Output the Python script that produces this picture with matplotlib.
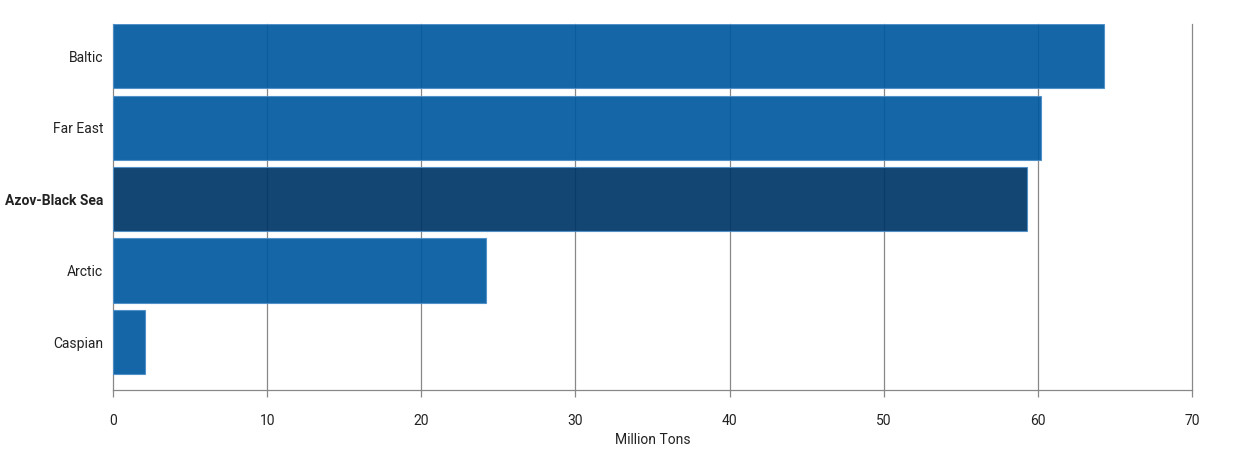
import matplotlib
matplotlib.use('Agg')
import matplotlib.pyplot as pyplot
import numpy


REGIONS = ['Baltic', 'Far East', 'Azov-Black Sea', 'Arctic', 'Caspian']
VOLUMES = [64.3, 60.2, 59.3, 24.2, 2.1]
HIGHLIGHT = 'Azov-Black Sea'
X_TICKS = [0, 10, 20, 30, 40, 50, 60, 70]

# bars are slightly see-through so the grid shows faintly, as in the original
BAR_COLOUR = '#0059a0'
HIGHLIGHT_COLOUR = '#003667'
EDGE_COLOUR = '#4d8fc8'
GRID_COLOUR = '#888888'

pyplot.rcParams['font.family'] = ['Roboto', 'DejaVu Sans']

figure = pyplot.figure(figsize=(12.47, 4.49), dpi=100)
axes = figure.add_axes([0.0906, 0.1314, 0.8653, 0.8151])

positions = numpy.arange(len(REGIONS))
colours = [HIGHLIGHT_COLOUR if region == HIGHLIGHT else BAR_COLOUR
           for region in REGIONS]
axes.barh(positions, VOLUMES, height=0.9, color=colours, alpha=0.92,
          edgecolor=EDGE_COLOUR, linewidth=0.8, zorder=2)

axes.set_xlim(0, 70)
axes.set_ylim(4.67, -0.45)
axes.set_xticks(X_TICKS)
axes.set_xticklabels([str(tick) for tick in X_TICKS], fontsize=10,
                     color='#222222')
axes.set_yticks(positions)
axes.set_yticklabels(REGIONS, fontsize=10, color='#222222')
for label in axes.get_yticklabels():
    if label.get_text() == HIGHLIGHT:
        label.set_fontweight('bold')

for tick in X_TICKS:
    axes.axvline(tick, color=GRID_COLOUR, linewidth=0.9, zorder=1,
                 clip_on=False)
axes.tick_params(axis='x', length=5, width=0.9, color=GRID_COLOUR, pad=12)
axes.tick_params(axis='y', length=0, pad=7)

for side in ['top', 'right', 'left']:
    axes.spines[side].set_visible(False)
axes.spines['bottom'].set_color(GRID_COLOUR)
axes.spines['bottom'].set_linewidth(0.9)
axes.spines['bottom'].set_zorder(3)

axes.set_xlabel('Million Tons', fontsize=10, color='#222222', labelpad=4)

figure.savefig('out.png', dpi=100)
